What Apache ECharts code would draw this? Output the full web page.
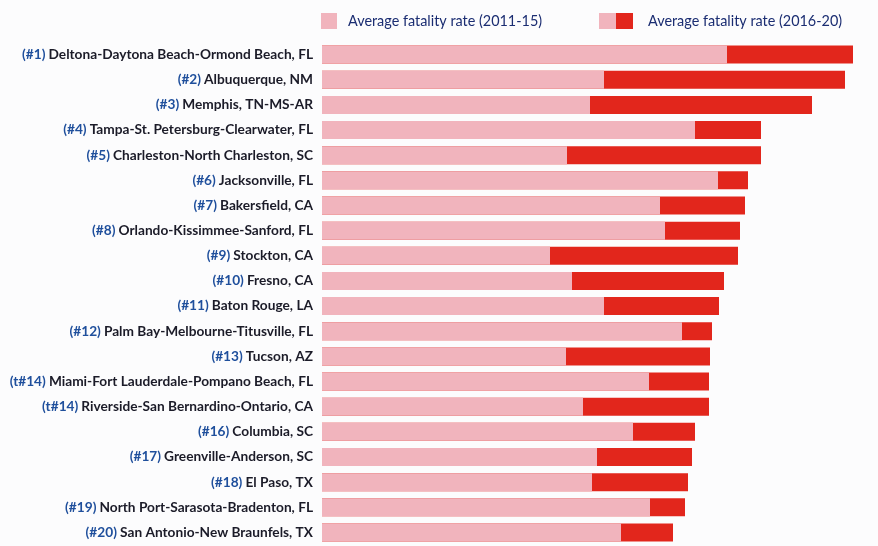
<!DOCTYPE html>
<html lang="en">
<head>
  <meta charset="UTF-8">
  <title>Average fatality rate by metro area</title>
  <style>
    body { margin: 0; padding: 0; background: #fcfcfd; }
    #chart { width: 878px; height: 546px; }
  </style>
  <script src="https://cdn.jsdelivr.net/npm/echarts@6/dist/echarts.min.js"></script>
</head>
<body>
  <div id="chart"></div>
  <script>
    // Ranks and metro areas, top to bottom
    const ranks = ['#1', '#2', '#3', '#4', '#5', '#6', '#7', '#8', '#9', '#10',
      '#11', '#12', '#13', 't#14', 't#14', '#16', '#17', '#18', '#19', '#20'];
    const areas = [
      'Deltona-Daytona Beach-Ormond Beach, FL',
      'Albuquerque, NM',
      'Memphis, TN-MS-AR',
      'Tampa-St. Petersburg-Clearwater, FL',
      'Charleston-North Charleston, SC',
      'Jacksonville, FL',
      'Bakersfield, CA',
      'Orlando-Kissimmee-Sanford, FL',
      'Stockton, CA',
      'Fresno, CA',
      'Baton Rouge, LA',
      'Palm Bay-Melbourne-Titusville, FL',
      'Tucson, AZ',
      'Miami-Fort Lauderdale-Pompano Beach, FL',
      'Riverside-San Bernardino-Ontario, CA',
      'Columbia, SC',
      'Greenville-Anderson, SC',
      'El Paso, TX',
      'North Port-Sarasota-Bradenton, FL',
      'San Antonio-New Braunfels, TX'
    ];
    // (no axis in the original)
    const rate2011 = [4.05, 2.82, 2.68, 3.73, 2.45, 3.96, 3.38, 3.43, 2.28, 2.50,
      2.82, 3.60, 2.44, 3.27, 2.61, 3.11, 2.75, 2.70, 3.28, 2.99];
    const rate2016 = [5.31, 5.23, 4.90, 4.39, 4.39, 4.26, 4.23, 4.18, 4.16, 4.02,
      3.97, 3.90, 3.88, 3.87, 3.87, 3.73, 3.70, 3.66, 3.63, 3.51];

    const PINK = '#f1b4bd';
    const RED = '#e2261c';

    // two-tone legend icon for the later period
    const twoTone = 'image://data:image/svg+xml;charset=utf-8,' + encodeURIComponent(
      '<svg xmlns="http://www.w3.org/2000/svg" width="34" height="16">' +
      '<rect x="0" y="0" width="17" height="16" fill="' + PINK + '"/>' +
      '<rect x="17" y="0" width="17" height="16" fill="' + RED + '"/></svg>');

    const labels = areas.map((a, i) => '{r|(' + ranks[i] + ')} {n|' + a + '}');

    const legendText = { color: '#1b2d72', fontFamily: 'Lato', fontSize: 14.4 };

    const chart = echarts.init(document.getElementById('chart'));
    chart.setOption({
      animation: false,
      legend: [
        {
          top: 8, left: 316,
          itemWidth: 16, itemHeight: 16, itemGap: 0,
          textStyle: Object.assign({ padding: [0, 0, 0, 6] }, legendText),
          data: [{ name: 'Average fatality rate (2011-15)', icon: 'rect', itemStyle: { color: PINK } }]
        },
        {
          top: 8, left: 594,
          itemWidth: 34, itemHeight: 16, itemGap: 0,
          textStyle: Object.assign({ padding: [0, 0, 0, 10] }, legendText),
          data: [{ name: 'Average fatality rate (2016-20)', icon: twoTone }]
        }
      ],
      grid: { left: 322, right: 0, top: 42, bottom: 1, containLabel: false },
      xAxis: {
        type: 'value', min: 0, max: 5.56,
        show: false
      },
      yAxis: {
        type: 'category',
        inverse: true,
        data: labels,
        axisLine: { show: false },
        axisTick: { show: false },
        axisLabel: {
          margin: 9,
          fontFamily: 'Lato',
          rich: {
            r: { color: '#1f4f9c', fontFamily: 'Lato', fontWeight: 'bold', fontSize: 13.7 },
            n: { color: '#1b1b28', fontFamily: 'Lato', fontWeight: 'bold', fontSize: 13.7 }
          }
        }
      },
      series: [
        {
          name: 'Average fatality rate (2016-20)',
          type: 'bar',
          data: rate2016,
          barWidth: 18,
          itemStyle: { color: RED }
        },
        {
          name: 'Average fatality rate (2011-15)',
          type: 'bar',
          data: rate2011,
          barWidth: 18,
          barGap: '-100%',
          itemStyle: { color: PINK }
        }
      ]
    });
  </script>
</body>
</html>
